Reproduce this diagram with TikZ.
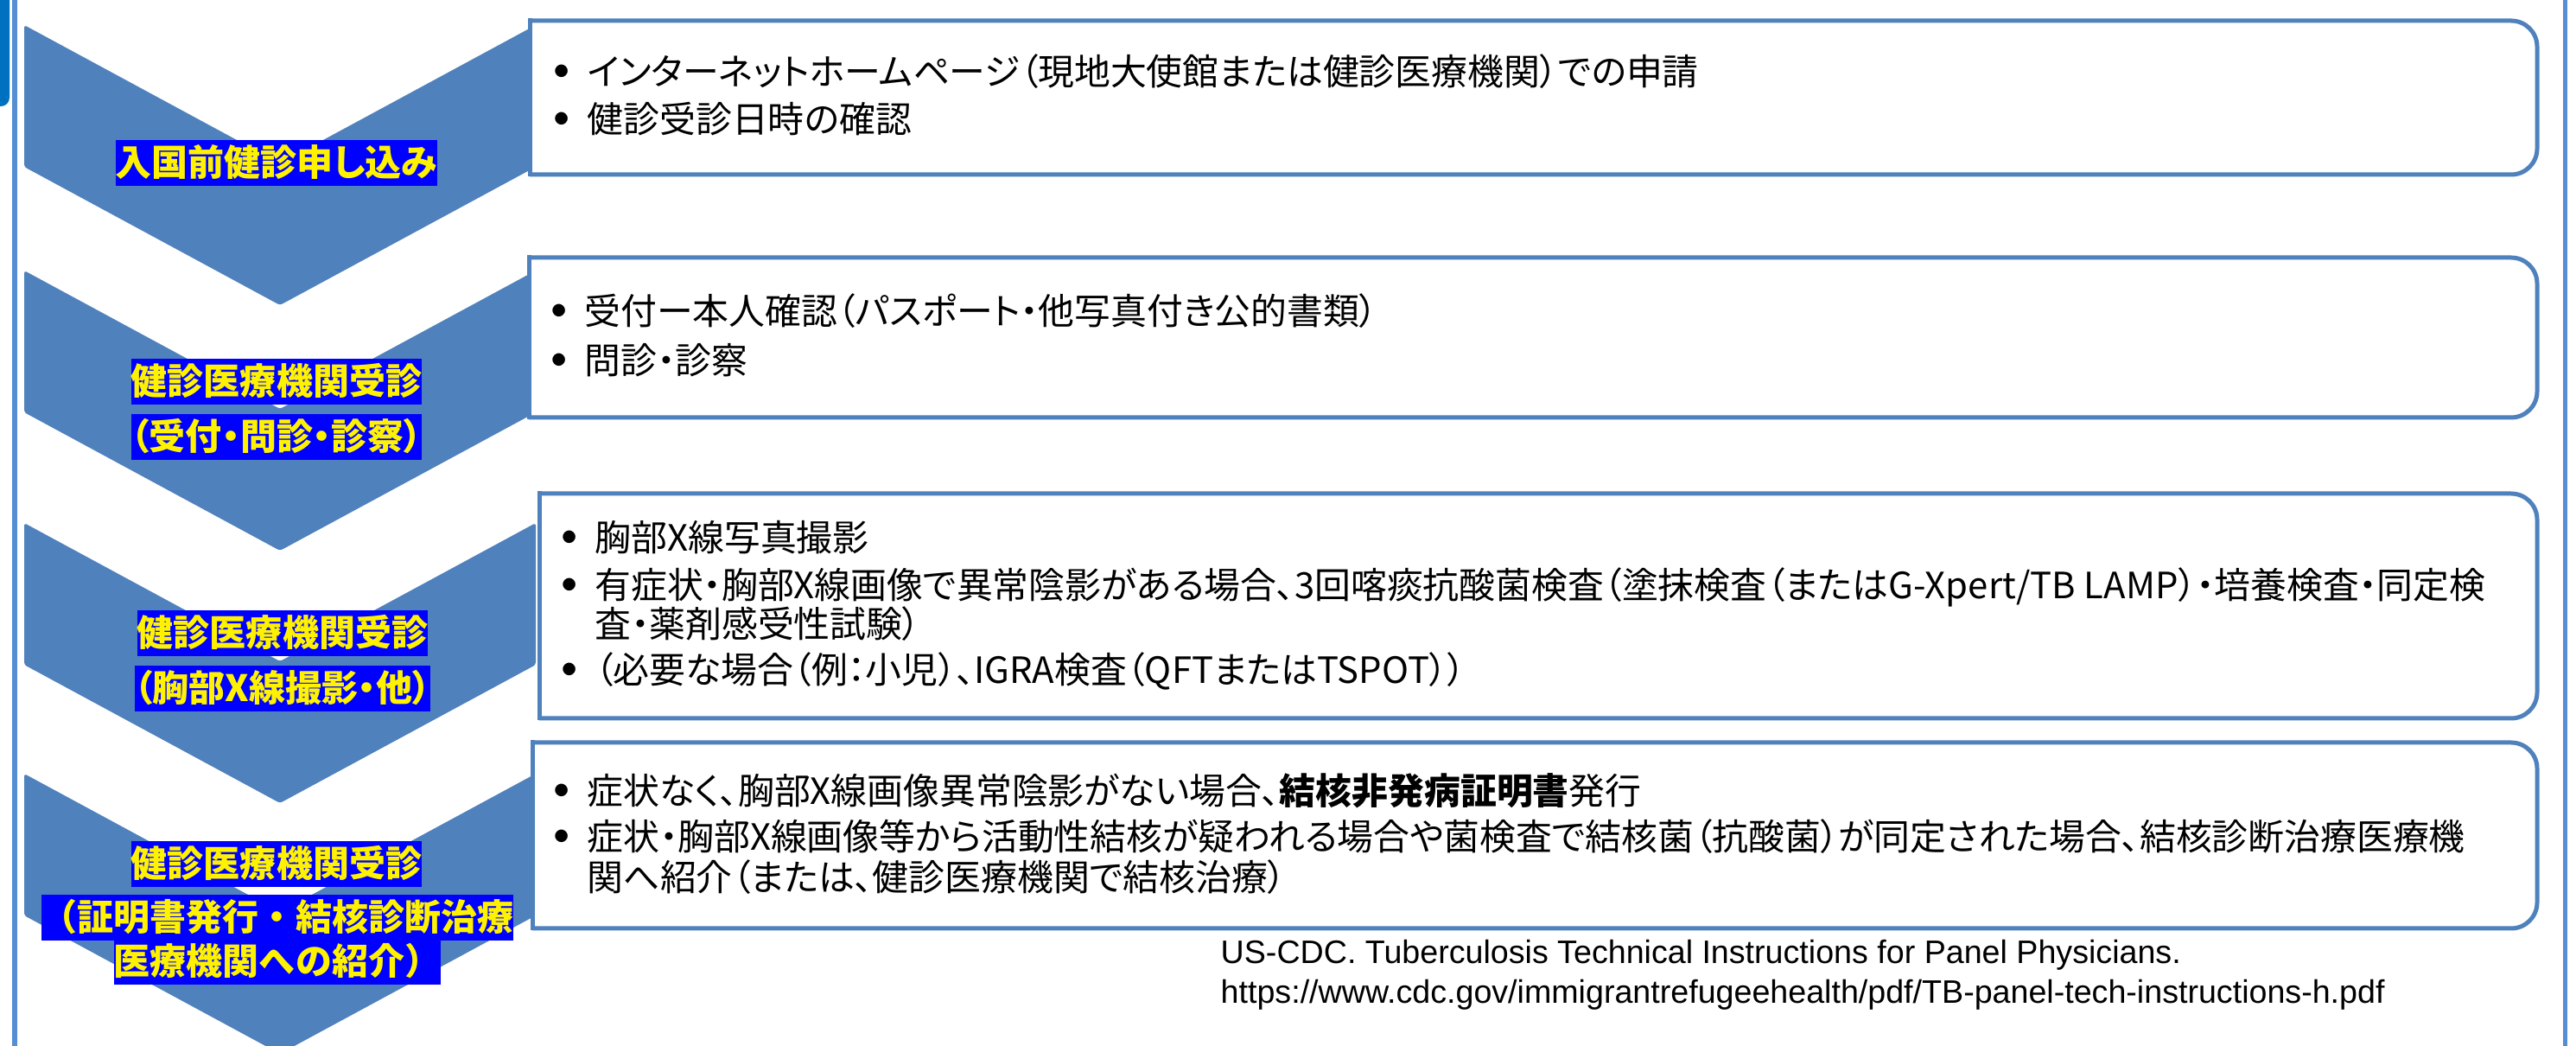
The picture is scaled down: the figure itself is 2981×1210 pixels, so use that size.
\documentclass[tikz,border=0pt]{standalone}
\usepackage{fontspec}
\setmainfont{Noto Sans CJK JP}[RawFeature=+palt]
\newfontfamily\jpfull{Noto Sans CJK JP}
\newfontfamily\citefont{Liberation Sans}

\definecolor{chevblue}{HTML}{4F81BD}
\definecolor{sideblue}{HTML}{558ED5}
\definecolor{cornerblue}{HTML}{0070C0}

\newcommand{\maru}{\makebox[0.39cm][l]{\makebox[0.18cm][c]{\raisebox{2.9pt}{\fontsize{4.6pt}{5pt}\selectfont ●}}}}

\tikzstyle{chevron}=[fill=chevblue,rounded corners=0.03cm]
\tikzstyle{waku}=[draw=chevblue,fill=white,line width=0.05cm,rounded corners=0.3cm]
\tikzstyle{wakuhen}=[draw=chevblue,line width=0.05cm,line cap=rect]
\tikzstyle{hashi}=[draw=sideblue,line width=0.05cm]
\tikzstyle{midashi}=[fill=blue,text=yellow,inner xsep=0pt,inner ysep=0.055cm,text height=0.36cm,text depth=0.06cm,font=\bfseries\fontsize{11.95pt}{14pt}\selectfont]
\tikzstyle{naiyou}=[anchor=base west,inner sep=0pt,font=\fontsize{11.9pt}{14pt}\selectfont]
\tikzstyle{shutten}=[anchor=base west,inner sep=0pt,font=\citefont\fontsize{10.7pt}{12pt}\selectfont]

\begin{document}
\begin{tikzpicture}[x=0.01cm,y=-0.01cm]

		\useasboundingbox (0,0) rectangle (2981,1210);
		\fill[white] (0,0) rectangle (2981,1210);

		\fill[cornerblue,rounded corners=0.1cm] (-20,-20) -- (11,-20) -- (11,123) -- (-20,123) -- cycle;
		\path[hashi] (17,0) -- (17,1210);
		\path[hashi] (2968,0) -- (2968,1210);

		\fill[chevron] (28,29) -- (324,189) -- (620,29) -- (620,193) -- (324,353) -- (28,193) -- cycle;
		\fill[chevron] (28,313) -- (324,473) -- (620,313) -- (620,477) -- (324,637) -- (28,477) -- cycle;
		\fill[chevron] (28,605) -- (324,765) -- (620,605) -- (620,769) -- (324,929) -- (28,769) -- cycle;
		\fill[chevron] (28,895) -- (324,1055) -- (620,895) -- (620,1059) -- (324,1219) -- (28,1059) -- cycle;

		\path[waku] (613,24) -- (2936,24) -- (2936,202) -- (613,202);
		\path[wakuhen] (613,24) -- (613,202);
		\path[waku] (612,298) -- (2936,298) -- (2936,483) -- (612,483);
		\path[wakuhen] (612,298) -- (612,483);
		\path[waku] (624,571) -- (2936,571) -- (2936,831) -- (624,831);
		\path[wakuhen] (624,571) -- (624,831);
		\path[waku] (616,859) -- (2936,859) -- (2936,1074) -- (616,1074);
		\path[wakuhen] (616,859) -- (616,1074);

		\node (a) at (320,188.5) [midashi] {入国前健診申し込み};

		\node (b) at (320,441.5) [midashi] {健診医療機関受診};
		\node (b2) at (320,505.5) [midashi] {（受付・問診・診察）};

		\node (c) at (327,732.5) [midashi] {健診医療機関受診};
		\node (c2) at (327,796.5) [midashi] {（胸部X線撮影・他）};

		\node (d) at (320,999.5) [midashi] {健診医療機関受診};
		\node (d2) at (321,1061.5) [midashi,font=\jpfull\bfseries\fontsize{11.95pt}{14pt}\selectfont] {（証明書発行・結核診断治療};
		\node (d3) at (321,1112.5) [midashi,font=\jpfull\bfseries\fontsize{11.95pt}{14pt}\selectfont] {医療機関への紹介）};

		\node (ta1) at (640,99) [naiyou] {\maru インターネットホームページ（現地大使館または健診医療機関）での申請};
		\node (ta2) at (640,154) [naiyou] {\maru 健診受診日時の確認};

		\node (tb1) at (637,376) [naiyou] {\maru 受付ー本人確認（パスポート・他写真付き公的書類）};
		\node (tb2) at (637,433) [naiyou] {\maru 問診・診察};

		\node (tc1) at (649,638) [naiyou] {\maru 胸部X線写真撮影};
		\node (tc2) at (649,693) [naiyou] {\maru 有症状・胸部X線画像で異常陰影がある場合、3回喀痰抗酸菌検査（塗抹検査（またはG-Xpert/TB LAMP）・培養検査・同定検};
		\node (tc2b) at (688,738) [naiyou] {査・薬剤感受性試験）};
		\node (tc3) at (649,791) [naiyou] {\maru （必要な場合（例：小児）、IGRA検査（QFTまたはTSPOT））};

		\node (td1) at (640,931) [naiyou] {\maru 症状なく、胸部X線画像異常陰影がない場合、\textbf{結核非発病証明書}発行};
		\node (td2) at (640,984) [naiyou] {\maru 症状・胸部X線画像等から活動性結核が疑われる場合や菌検査で結核菌（抗酸菌）が同定された場合、結核診断治療医療機};
		\node (td2b) at (679,1031) [naiyou] {関へ紹介（または、健診医療機関で結核治療）};

		\node (e1) at (1412,1115) [shutten] {US-CDC. Tuberculosis Technical Instructions for Panel Physicians.};
		\node (e2) at (1412,1161) [shutten] {https://www.cdc.gov/immigrantrefugeehealth/pdf/TB-panel-tech-instructions-h.pdf};

	\end{tikzpicture}
\end{document}
